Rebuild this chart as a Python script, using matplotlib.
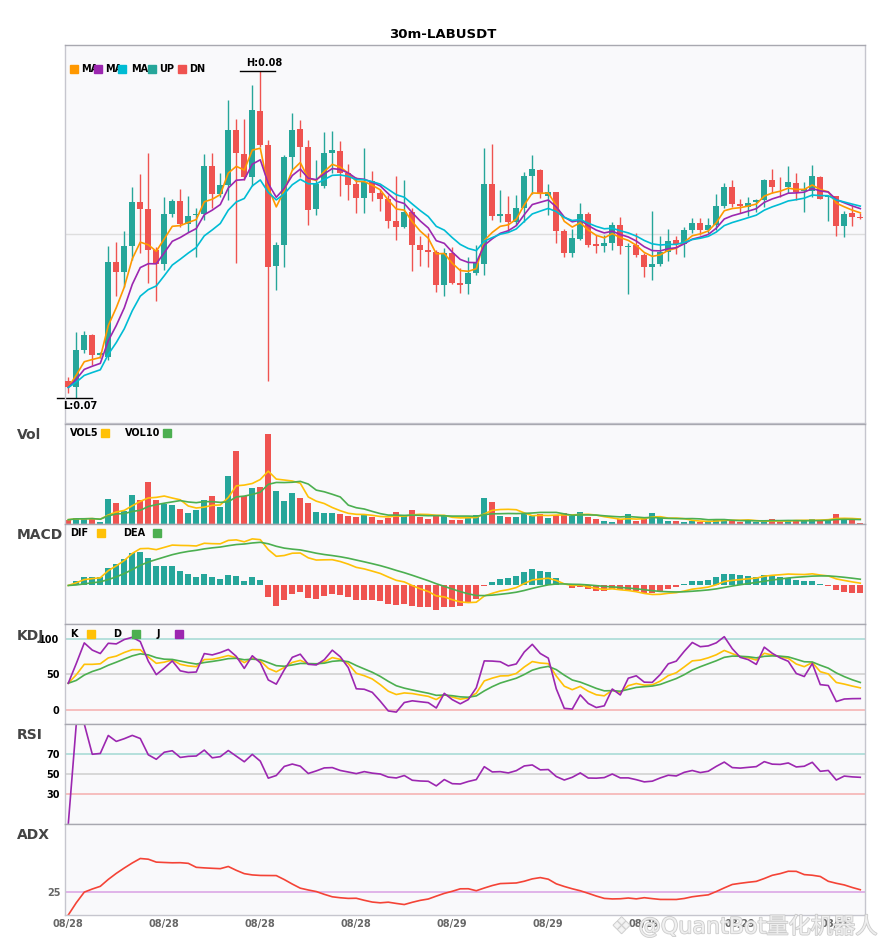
import numpy as np
import pandas as pd
import matplotlib
matplotlib.use("Agg")
import matplotlib.pyplot as plt
from matplotlib.patches import Rectangle
import matplotlib.patheffects as pe

# ── 30m candles, LABUSDT ──────────────────────────────────────────────────────

open_ = [0.07056, 0.07038, 0.07150, 0.07195, 0.07135, 0.07130, 0.07415, 0.07385, 0.07462, 0.07594,
         0.07573, 0.07450, 0.07408, 0.07558, 0.07597, 0.07528, 0.07556, 0.07558, 0.07702, 0.07618,
         0.07645, 0.07810, 0.07738, 0.07668, 0.07867, 0.07767, 0.07402, 0.07465, 0.07730, 0.07813,
         0.07760, 0.07573, 0.07643, 0.07742, 0.07747, 0.07682, 0.07648, 0.07607, 0.07657, 0.07622,
         0.07604, 0.07538, 0.07520, 0.07564, 0.07466, 0.07450, 0.07444, 0.07345, 0.07440, 0.07352,
         0.07348, 0.07382, 0.07408, 0.07648, 0.07552, 0.07558, 0.07535, 0.07577, 0.07672, 0.07690,
         0.07613, 0.07624, 0.07508, 0.07442, 0.07483, 0.07558, 0.07468, 0.07463, 0.07472, 0.07525,
         0.07459, 0.07465, 0.07435, 0.07400, 0.07408, 0.07445, 0.07480, 0.07468, 0.07510, 0.07532,
         0.07510, 0.07525, 0.07582, 0.07640, 0.07588, 0.07580, 0.07595, 0.07600, 0.07660, 0.07640,
         0.07638, 0.07651, 0.07628, 0.07628, 0.07670, 0.07608, 0.07612, 0.07523, 0.07560, 0.07549]

close = [0.07038, 0.07150, 0.07195, 0.07135, 0.07140, 0.07415, 0.07385, 0.07462, 0.07594, 0.07574,
         0.07450, 0.07408, 0.07558, 0.07597, 0.07528, 0.07552, 0.07559, 0.07702, 0.07618, 0.07645,
         0.07810, 0.07742, 0.07668, 0.07870, 0.07767, 0.07400, 0.07465, 0.07728, 0.07810, 0.07760,
         0.07570, 0.07647, 0.07740, 0.07750, 0.07682, 0.07645, 0.07607, 0.07655, 0.07622, 0.07604,
         0.07538, 0.07520, 0.07564, 0.07466, 0.07450, 0.07444, 0.07345, 0.07442, 0.07352, 0.07345,
         0.07382, 0.07410, 0.07648, 0.07552, 0.07558, 0.07535, 0.07577, 0.07672, 0.07693, 0.07618,
         0.07624, 0.07508, 0.07442, 0.07485, 0.07558, 0.07466, 0.07463, 0.07472, 0.07525, 0.07463,
         0.07463, 0.07435, 0.07400, 0.07408, 0.07445, 0.07477, 0.07468, 0.07510, 0.07532, 0.07510,
         0.07525, 0.07582, 0.07640, 0.07588, 0.07583, 0.07592, 0.07600, 0.07660, 0.07640, 0.07638,
         0.07654, 0.07625, 0.07632, 0.07672, 0.07604, 0.07612, 0.07523, 0.07558, 0.07550, 0.07546]

high = [0.07068, 0.07203, 0.07208, 0.07198, 0.07145, 0.07462, 0.07475, 0.07507, 0.07640, 0.07678,
        0.07742, 0.07460, 0.07610, 0.07604, 0.07634, 0.07613, 0.07575, 0.07738, 0.07742, 0.07680,
        0.07900, 0.07845, 0.07843, 0.07945, 0.07987, 0.07780, 0.07475, 0.07735, 0.07862, 0.07840,
        0.07780, 0.07720, 0.07805, 0.07808, 0.07777, 0.07708, 0.07670, 0.07757, 0.07687, 0.07632,
        0.07615, 0.07672, 0.07660, 0.07575, 0.07492, 0.07500, 0.07450, 0.07455, 0.07460, 0.07395,
        0.07428, 0.07465, 0.07757, 0.07768, 0.07630, 0.07613, 0.07615, 0.07685, 0.07735, 0.07693,
        0.07648, 0.07625, 0.07512, 0.07512, 0.07590, 0.07565, 0.07495, 0.07495, 0.07535, 0.07550,
        0.07470, 0.07502, 0.07440, 0.07567, 0.07492, 0.07513, 0.07492, 0.07520, 0.07545, 0.07545,
        0.07545, 0.07618, 0.07650, 0.07660, 0.07602, 0.07610, 0.07602, 0.07662, 0.07693, 0.07670,
        0.07702, 0.07680, 0.07655, 0.07705, 0.07672, 0.07612, 0.07612, 0.07567, 0.07583, 0.07560]

low = [0.07020, 0.07005, 0.07140, 0.07105, 0.07125, 0.07120, 0.07312, 0.07340, 0.07420, 0.07440,
       0.07352, 0.07298, 0.07390, 0.07550, 0.07520, 0.07505, 0.07428, 0.07540, 0.07575, 0.07608,
       0.07600, 0.07412, 0.07660, 0.07642, 0.07760, 0.07058, 0.07330, 0.07400, 0.07690, 0.07670,
       0.07525, 0.07555, 0.07635, 0.07680, 0.07612, 0.07600, 0.07562, 0.07562, 0.07598, 0.07568,
       0.07515, 0.07480, 0.07515, 0.07388, 0.07402, 0.07400, 0.07325, 0.07313, 0.07348, 0.07322,
       0.07318, 0.07375, 0.07375, 0.07540, 0.07535, 0.07505, 0.07525, 0.07535, 0.07618, 0.07605,
       0.07555, 0.07470, 0.07428, 0.07430, 0.07480, 0.07460, 0.07440, 0.07445, 0.07450, 0.07438,
       0.07318, 0.07430, 0.07370, 0.07360, 0.07402, 0.07418, 0.07438, 0.07430, 0.07502, 0.07495,
       0.07502, 0.07510, 0.07575, 0.07580, 0.07560, 0.07552, 0.07565, 0.07580, 0.07620, 0.07610,
       0.07620, 0.07600, 0.07565, 0.07610, 0.07602, 0.07538, 0.07492, 0.07490, 0.07523, 0.07542]

# volume, thousands of LAB
volume = [130, 180, 160, 180, 70, 760, 640, 400, 880, 730,
          1270, 730, 600, 580, 460, 340, 430, 730, 850, 520,
          1450, 2200, 840, 1090, 1120, 2710, 1000, 700, 940, 790,
          640, 370, 340, 340, 310, 250, 220, 310, 220, 130,
          190, 370, 250, 430, 220, 160, 250, 250, 130, 130,
          190, 280, 790, 670, 250, 220, 220, 310, 250, 310,
          190, 280, 340, 250, 370, 220, 160, 100, 70, 160,
          310, 100, 160, 340, 190, 100, 100, 70, 100, 70,
          50, 160, 160, 130, 70, 100, 50, 70, 160, 70,
          100, 130, 100, 160, 100, 160, 310, 130, 130, 20]

date_ticks = [0, 12, 24, 36, 48, 60, 72, 84, 96]
date_labels = ["08/28", "08/28", "08/28", "08/28", "08/29", "08/29", "08/29", "08/29", "08/30"]

UP, DN = "#26a69a", "#ef5350"
BG = "#f9f9fb"

# ── indicators ────────────────────────────────────────────────────────────────

df = pd.DataFrame({"open": open_, "high": high, "low": low, "close": close, "vol": volume})
x = np.arange(len(df))
c = df["close"]

# price MAs are exponential (5 / 8 / 13)
ma5 = c.ewm(span=5, adjust=False).mean()
ma8 = c.ewm(span=8, adjust=False).mean()
ma13 = c.ewm(span=13, adjust=False).mean()
vol5 = df["vol"].rolling(5, min_periods=1).mean()
vol10 = df["vol"].rolling(10, min_periods=1).mean()

dif = c.ewm(span=12, adjust=False).mean() - c.ewm(span=26, adjust=False).mean()
dea = dif.ewm(span=9, adjust=False).mean()
hist = 2 * (dif - dea)

llv = df["low"].rolling(9, min_periods=1).min()
hhv = df["high"].rolling(9, min_periods=1).max()
rsv = ((c - llv) / (hhv - llv) * 100).fillna(50)
k = rsv.ewm(com=2, adjust=False).mean()
d = k.ewm(com=2, adjust=False).mean()
j = 3 * k - 2 * d

delta = c.diff().fillna(0)
gain = delta.clip(lower=0).ewm(alpha=1 / 14, adjust=True).mean()
loss = (-delta.clip(upper=0)).ewm(alpha=1 / 14, adjust=True).mean()
rsi = (100 - 100 / (1 + gain / loss)).fillna(0)
rsi[loss == 0] = np.where(gain[loss == 0] > 0, 100, 0)

prev_c = c.shift(1)
tr = pd.concat([df["high"] - df["low"],
                (df["high"] - prev_c).abs(),
                (df["low"] - prev_c).abs()], axis=1).max(axis=1)
up_move = df["high"].diff().fillna(0)
dn_move = (-df["low"].diff()).fillna(0)
pdm = pd.Series(np.where((up_move > dn_move) & (up_move > 0), up_move, 0.0))
mdm = pd.Series(np.where((dn_move > up_move) & (dn_move > 0), dn_move, 0.0))
atr = tr.ewm(span=14, adjust=False).mean()
pdi = 100 * pdm.ewm(span=14, adjust=False).mean() / atr
mdi = 100 * mdm.ewm(span=14, adjust=False).mean() / atr
dx = (100 * (pdi - mdi).abs() / (pdi + mdi)).fillna(0)
adx = dx.ewm(span=14, adjust=False).mean()

# ── layout (pixel rows of the 885x950 canvas) ─────────────────────────────────

W, H = 885, 950
fig = plt.figure(figsize=(W / 100, H / 100), dpi=100)
fig.patch.set_facecolor("white")


def rect(top, bottom, left=65, right=865):
    return [left / W, 1 - bottom / H, (right - left) / W, (bottom - top) / H]


ax_p = fig.add_axes(rect(45, 423))
ax_v = fig.add_axes(rect(424, 524), sharex=ax_p)
ax_m = fig.add_axes(rect(524, 624), sharex=ax_p)
ax_k = fig.add_axes(rect(624, 724), sharex=ax_p)
ax_r = fig.add_axes(rect(724, 824), sharex=ax_p)
ax_a = fig.add_axes(rect(824, 915), sharex=ax_p)
axes = [ax_p, ax_v, ax_m, ax_k, ax_r, ax_a]

for ax in axes:
    ax.set_facecolor(BG)
    for s in ax.spines.values():
        s.set_color("#c6c6ce")
        s.set_linewidth(1)
    ax.spines["top"].set_color("#a8a8b0")
    ax.tick_params(length=0, labelbottom=False, labelleft=False)
    ax.set_yticks([])

ax_p.set_xlim(-0.41, len(df) - 0.41)

# ── price ─────────────────────────────────────────────────────────────────────

is_up = df["close"] >= df["open"]
colors = np.where(is_up, UP, DN)
lo_p, hi_p = df["low"].min(), df["high"].max()
rng = hi_p - lo_p
ax_p.set_ylim(lo_p - 0.075 * rng, hi_p + 0.08 * rng)
ax_p.axhline(np.mean(ax_p.get_ylim()), color="#dedede", lw=1, zorder=0)

body_lo = np.minimum(df["open"], df["close"])
body_h = np.maximum((df["close"] - df["open"]).abs(), rng * 0.003)
ax_p.vlines(x, df["low"], df["high"], colors=colors, lw=1, zorder=2)
ax_p.bar(x, body_h, bottom=body_lo, width=0.75, color=colors, zorder=3)

ax_p.plot(x, ma5, color="#ff9800", lw=1.2, zorder=4)
ax_p.plot(x, ma8, color="#9c27b0", lw=1.2, zorder=4)
ax_p.plot(x, ma13, color="#00bcd4", lw=1.2, zorder=4)

ih, il = int(df["high"].idxmax()), int(df["low"].idxmin())
ax_p.plot([ih - 2.5, ih + 1.9], [hi_p, hi_p], color="black", lw=1, clip_on=False)
ax_p.annotate(f"H:{hi_p:.2f}", (ih + 0.5, hi_p), xytext=(0, 2), textcoords="offset points",
              ha="center", va="bottom", fontsize=7, fontweight="bold")
ax_p.plot([il - 2.4, il + 2.0], [lo_p, lo_p], color="black", lw=1, clip_on=False)
ax_p.annotate(f"L:{lo_p:.2f}", (il + 0.5, lo_p), xytext=(0, -2), textcoords="offset points",
              ha="center", va="top", fontsize=7, fontweight="bold")

# ── volume ────────────────────────────────────────────────────────────────────

ax_v.bar(x, df["vol"], width=0.75, color=colors)
ax_v.plot(x, vol5, color="#ffc107", lw=1.2)
ax_v.plot(x, vol10, color="#4caf50", lw=1.2)
ax_v.set_ylim(0, df["vol"].max() / 0.9)

# ── MACD ──────────────────────────────────────────────────────────────────────

ax_m.bar(x, hist, width=0.75, color=np.where(hist >= 0, UP, DN))
ax_m.plot(x, dif, color="#ffc107", lw=1.2)
ax_m.plot(x, dea, color="#4caf50", lw=1.2)
allm = pd.concat([dif, dea, hist])
mlo, mhi = allm.min(), allm.max()
ax_m.set_ylim(mlo - 0.2 * (mhi - mlo), mhi + 0.21 * (mhi - mlo))

# ── KDJ ───────────────────────────────────────────────────────────────────────

for lv, col in [(100, "#a9dbd6"), (50, "#d2d2d2"), (0, "#f6b4b4")]:
    ax_k.axhline(lv, color=col, lw=1.2, zorder=0)
ax_k.plot(x, k, color="#ffc107", lw=1.2)
ax_k.plot(x, d, color="#4caf50", lw=1.2)
ax_k.plot(x, j, color="#9c27b0", lw=1.2)
ax_k.set_ylim(-20, 121)
ax_k.set_yticks([0, 50, 100])

# ── RSI ───────────────────────────────────────────────────────────────────────

for lv, col in [(70, "#a9dbd6"), (50, "#d2d2d2"), (30, "#f6b4b4")]:
    ax_r.axhline(lv, color=col, lw=1.2, zorder=0)
ax_r.plot(x, rsi, color="#9c27b0", lw=1.2)
ax_r.set_ylim(0, 100)
ax_r.set_yticks([30, 50, 70])

# ── ADX ───────────────────────────────────────────────────────────────────────

ax_a.axhline(25, color="#dca8e6", lw=1.2, zorder=0)
ax_a.plot(x, adx, color="#f44336", lw=1.2)
ax_a.set_ylim(0, 99)
ax_a.set_yticks([25])

for ax in (ax_k, ax_r, ax_a):
    ax.tick_params(labelleft=True, labelsize=7, pad=4)
    for t in ax.get_yticklabels():
        t.set_fontweight("bold")

ax_a.set_xticks(date_ticks)
ax_a.set_xticklabels(date_labels)
ax_a.tick_params(labelbottom=True, labelsize=7, labelcolor="#666666", pad=3)
for t in ax_a.get_xticklabels():
    t.set_fontweight("bold")

# ── titles, panel names, legends ──────────────────────────────────────────────

fig.text(443 / W, 1 - 34 / H, "30m-LABUSDT", ha="center", va="center",
         fontsize=9.5, fontweight="bold")

for name, py in [("Vol", 435), ("MACD", 535), ("KDJ", 636), ("RSI", 735), ("ADX", 835)]:
    fig.text(17 / W, 1 - py / H, name, ha="left", va="center", fontsize=10,
             fontweight="bold", color="#444444")


def legend(py, texts, squares):
    for tx, label in texts:
        fig.text(tx / W, 1 - py / H, label, ha="left", va="center", fontsize=7,
                 fontweight="bold")
    for sx, col in squares:
        fig.patches.append(Rectangle((sx / W, 1 - (py + 4) / H), 8 / W, 8 / H,
                                     transform=fig.transFigure, color=col, zorder=5))


legend(69, [(81, "MA"), (105, "MA"), (131, "MA"), (159, "UP"), (189, "DN")],
       [(70, "#ff9800"), (94, "#9c27b0"), (118, "#00bcd4"), (148, UP), (178, DN)])
legend(433, [(70, "VOL5"), (125, "VOL10")], [(101, "#ffc107"), (163, "#4caf50")])
legend(533, [(70, "DIF"), (123, "DEA")], [(97, "#ffc107"), (153, "#4caf50")])
legend(634, [(70, "K"), (113, "D"), (157, "J")],
       [(87, "#ffc107"), (132, "#4caf50"), (175, "#9c27b0")])

# faint watermark over the bottom-right corner, as in the source screenshot
wm = fig.text(878 / W, 1 - 926 / H, "❖ @QuantBot量化机器人", ha="right", va="center",
              fontsize=16, color="#f4f4f4", alpha=0.85,
              family=["DejaVu Sans", "Noto Sans CJK SC"], zorder=10)
wm.set_path_effects([pe.withStroke(linewidth=1.2, foreground="#c4c4c4")])

fig.savefig("out.png", dpi=100)
